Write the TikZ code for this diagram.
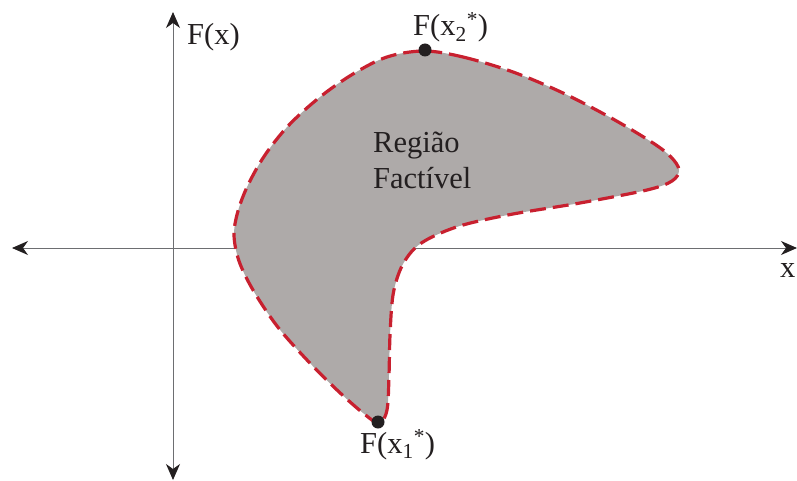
\documentclass[tikz,border=0pt]{standalone}
\usepackage{fontspec}
\setmainfont{Liberation Serif}
\usetikzlibrary{arrows.meta}
\definecolor{regfill}{HTML}{AEAAA9}
\definecolor{regline}{HTML}{C8202F}
\definecolor{axisgray}{HTML}{6D6E71}
\definecolor{ink}{HTML}{231F20}
\begin{document}
\begin{tikzpicture}[x=1pt,y=-1pt,
  axis/.style={draw=axisgray,line width=1pt,
    {Stealth[length=16pt,width=14pt,inset=5pt,color=ink]}-{Stealth[length=16pt,width=14pt,inset=5pt,color=ink]}},
  region/.style={fill=regfill,draw=regline,line width=3.2pt,dash pattern=on 16pt off 7pt},
  lbl/.style={text=ink,inner sep=0pt,anchor=base west,font=\fontsize{30.5}{37}\selectfont},
  dot/.style={circle,fill=ink,inner sep=0pt,minimum size=13pt}]
\useasboundingbox (0,0) rectangle (797,481);
% axes
\coordinate (xl) at (12,248);
\coordinate (xr) at (797,248);
\coordinate (yt) at (173,12);
\coordinate (yb) at (173,480);
\draw[axis] (xl) -- (xr);
\draw[axis] (yb) -- (yt);
% region
\path[region] plot[smooth cycle,tension=0.55] coordinates {
 (424,51) (463,57) (513,72) (563,93) (613,119) (653,143) (671,157) (679,170)
 (672,181) (647,190) (580,203) (513,214) (463,225) (432,237) (414,249)
 (401,268) (393,295) (390,335) (389,375) (387,410) (379,423) (363,413)
 (337,390) (307,360) (277,326) (253,290) (239,261) (234,235) (238,211)
 (248,185) (265,155) (289,125) (320,97) (353,74) (387,57)};
% points
\node[dot] (p2) at (425,50) {};
\node[dot] (p1) at (378,422) {};
% labels
\node[lbl] (fx) at (187,45) {F(x)};
\node[lbl] (xx) at (780,277) {x};
\node[lbl] (l2) at (413,36) {F(x\textsubscript{2}\textsuperscript{*})};
\node[lbl] (l1) at (360,453) {F(x\textsubscript{1}\textsuperscript{*})};
\node[lbl] (r1) at (373,153) {Região};
\node[lbl] (r2) at (373,189) {Factível};
\end{tikzpicture}
\end{document}
